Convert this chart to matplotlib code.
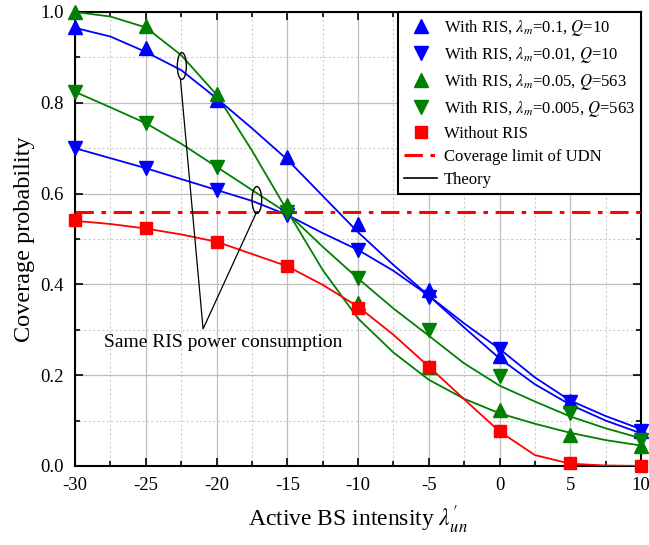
import numpy as np
import matplotlib
matplotlib.use("Agg")
import matplotlib.pyplot as plt
from matplotlib.patches import Ellipse
from matplotlib.ticker import MultipleLocator, FormatStrFormatter

plt.rcParams['font.family'] = ['Liberation Serif', 'DejaVu Serif']
plt.rcParams['mathtext.fontset'] = 'stix'
plt.rcParams['axes.unicode_minus'] = False

# simulation points
x_sim = [-30, -25, -20, -15, -10, -5, 0, 5, 10]
ris_01_q10 = [0.968, 0.920, 0.806, 0.681, 0.533, 0.387, 0.243, 0.143, 0.078]
ris_001_q10 = [0.700, 0.656, 0.608, 0.553, 0.476, 0.372, 0.258, 0.140, 0.076]
ris_005_q563 = [1.000, 0.969, 0.819, 0.575, 0.358, 0.219, 0.123, 0.068, 0.043]
ris_0005_q563 = [0.824, 0.755, 0.659, 0.560, 0.413, 0.300, 0.198, 0.116, 0.057]
no_ris = [0.542, 0.524, 0.494, 0.441, 0.347, 0.219, 0.076, 0.006, 0.000]

# analytical curves
x_th = [-30, -27.5, -25, -22.5, -20, -17.5, -15, -12.5, -10,
        -7.5, -5, -2.5, 0, 2.5, 5, 7.5, 10]
th_01_q10 = [0.965, 0.946, 0.912, 0.872, 0.810, 0.744, 0.675, 0.595, 0.515,
             0.443, 0.375, 0.305, 0.237, 0.180, 0.135, 0.100, 0.072]
th_001_q10 = [0.700, 0.678, 0.656, 0.632, 0.608, 0.584, 0.553, 0.513, 0.476,
              0.430, 0.375, 0.314, 0.258, 0.195, 0.144, 0.110, 0.081]
th_005_q563 = [1.000, 0.990, 0.966, 0.905, 0.818, 0.695, 0.562, 0.432, 0.325,
               0.250, 0.190, 0.148, 0.116, 0.093, 0.073, 0.057, 0.045]
th_0005_q563 = [0.824, 0.790, 0.755, 0.710, 0.659, 0.608, 0.557, 0.483, 0.413,
                0.347, 0.287, 0.226, 0.177, 0.142, 0.109, 0.083, 0.061]
th_no_ris = [0.540, 0.533, 0.523, 0.510, 0.494, 0.467, 0.440, 0.399, 0.351,
             0.289, 0.219, 0.147, 0.076, 0.024, 0.005, 0.001, 0.000]

udn_limit = 0.56

labels = [r"With RIS, $\lambda_m$=0.1, $Q$=10",
          r"With RIS, $\lambda_m$=0.01, $Q$=10",
          r"With RIS, $\lambda_m$=0.05, $Q$=563",
          r"With RIS, $\lambda_m$=0.005, $Q$=563",
          "Without RIS"]

fig = plt.figure(figsize=(6.49, 5.45), dpi=100)
ax = fig.add_axes([0.1156, 0.145, 0.8721, 0.833])

blue, green, red = "#0000ff", "#008000", "#ff0000"

series = [
    (ris_01_q10, th_01_q10, blue, "^", 10),
    (ris_001_q10, th_001_q10, blue, "v", 10),
    (ris_005_q563, th_005_q563, green, "^", 10),
    (ris_0005_q563, th_0005_q563, green, "v", 10),
    (no_ris, th_no_ris, red, "s", 8),
]

handles = []
for (sim, th, c, m, ms), lab in zip(series, labels):
    ax.plot(x_th, th, color=c, lw=1.3, zorder=3)
    h, = ax.plot(x_sim, sim, linestyle="none", marker=m, ms=ms,
                 color=c, clip_on=False, zorder=4, label=lab)
    handles.append(h)

hl = ax.axhline(udn_limit, color=red, lw=2.2, linestyle=(0, (6, 2.5, 1.5, 2.5)),
                zorder=3, label="Coverage limit of UDN")
handles.append(hl)
th_handle, = ax.plot([], [], color="black", lw=1.2, label="Theory")
handles.append(th_handle)

# annotation: same RIS power consumption
ax.add_patch(Ellipse((-22.45, 0.881), 0.64, 0.059, fill=False, ec="black", lw=1.0, zorder=5))
ax.add_patch(Ellipse((-17.15, 0.586), 0.68, 0.059, fill=False, ec="black", lw=1.0, zorder=5))
ax.plot([-22.55, -20.95, -17.2], [0.852, 0.302, 0.557], color="black", lw=0.9, zorder=5)
ax.text(-27.95, 0.273, "Same RIS power consumption", fontsize=14, va="center", ha="left")

ax.set_xlim(-30, 10)
ax.set_ylim(0, 1.0)
ax.xaxis.set_major_locator(MultipleLocator(5))
ax.xaxis.set_minor_locator(MultipleLocator(2.5))
ax.yaxis.set_major_locator(MultipleLocator(0.2))
ax.yaxis.set_minor_locator(MultipleLocator(0.1))
ax.yaxis.set_major_formatter(FormatStrFormatter("%.1f"))

ax.grid(True, which="major", color="#bdbdbd", lw=0.9, zorder=0)
ax.grid(True, which="minor", color="#cccccc", lw=0.8, linestyle=(0, (2, 2)), zorder=0)
ax.set_axisbelow(True)

ax.tick_params(which="both", direction="in", top=True, right=True, width=1.2)
ax.tick_params(which="major", length=6, labelsize=13.5, pad=8)
ax.tick_params(which="minor", length=3.5)
for s in ax.spines.values():
    s.set_linewidth(1.5)

ax.set_xlabel(r"Active BS intensity $\lambda_{un}^{\prime}$", fontsize=17, labelpad=7)
ax.set_ylabel("Coverage probability", fontsize=17.5, labelpad=4)

leg = ax.legend(handles=handles, loc="upper right", fontsize=12, frameon=True,
                fancybox=False, edgecolor="black", framealpha=1,
                borderaxespad=0, handlelength=2.0, handletextpad=0.4,
                labelspacing=0.42, borderpad=0.35)
leg.get_frame().set_linewidth(1.5)
leg.set_zorder(10)

fig.savefig("out.png", dpi=100)
